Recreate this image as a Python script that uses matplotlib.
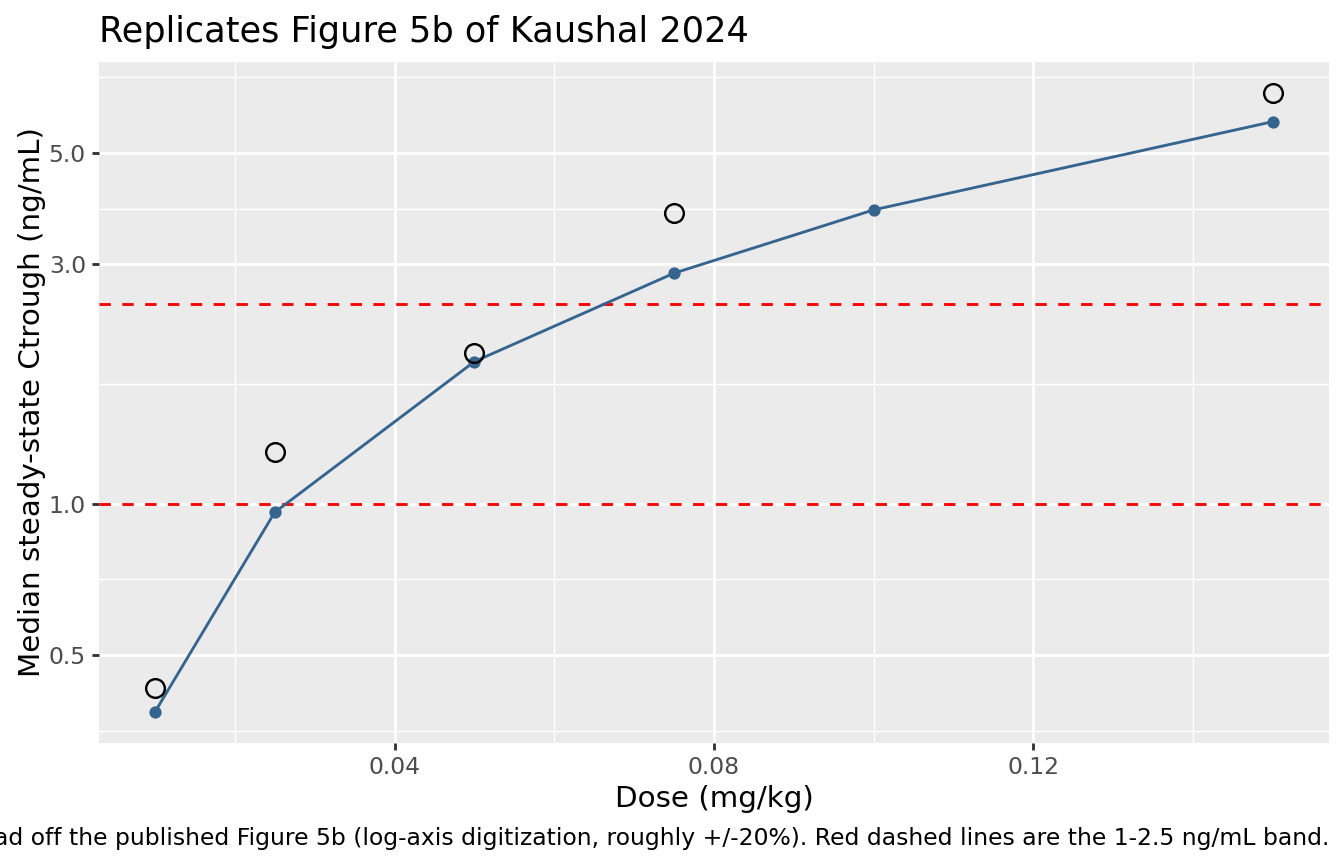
#!/usr/bin/env python3
"""Dose vs median steady-state Ctrough, replicating Kaushal 2024 Fig 5b."""
import matplotlib

matplotlib.use("Agg")
import matplotlib.pyplot as plt
from matplotlib.ticker import FixedLocator, NullFormatter
import numpy as np

# model medians (filled points + line)
dose = [0.01, 0.025, 0.05, 0.075, 0.10, 0.15]
model_ctrough = [0.385, 0.962, 1.92, 2.88, 3.85, 5.77]

obs_dose = [0.01, 0.025, 0.05, 0.075, 0.15]
obs_ctrough = [0.430, 1.27, 2.00, 3.79, 6.58]

band = [1.0, 2.5]

x_major = [0.04, 0.08, 0.12]
x_major_labels = ["0.04", "0.08", "0.12"]
x_minor = [0.02, 0.06, 0.10, 0.14]
y_major = [0.5, 1.0, 3.0, 5.0]
y_major_labels = ["0.5", "1.0", "3.0", "5.0"]

title = "Replicates Figure 5b of Kaushal 2024"
xlabel = "Dose (mg/kg)"
ylabel = "Median steady-state Ctrough (ng/mL)"
# caption is right-aligned and runs off the left edge, as in the original
caption = (
    "Open circles: values read off the published Figure 5b (log-axis digitization, "
    "roughly +/-20%). Red dashed lines are the 1-2.5 ng/mL band."
)

LINE_COLOR = "#35648F"
PANEL_BG = "#EBEBEB"

plt.rcParams["font.family"] = ["DejaVu Sans"]

W, H = 1344, 864
fig = plt.figure(figsize=(7, 4.5), dpi=192)
ax = fig.add_axes([99 / W, 1 - 743 / H, (1329 - 99) / W, (743 - 62) / H])
ax.set_facecolor(PANEL_BG)
for s in ax.spines.values():
    s.set_visible(False)

ax.set_yscale("log")

# ggplot-like 5% expansion, in log space for y
all_x = np.array(dose + obs_dose)
xr = all_x.max() - all_x.min()
ax.set_xlim(all_x.min() - 0.05 * xr, all_x.max() + 0.05 * xr)
all_y = np.log10(np.array(model_ctrough + obs_ctrough + band))
yr = all_y.max() - all_y.min()
ax.set_ylim(10 ** (all_y.min() - 0.05 * yr), 10 ** (all_y.max() + 0.05 * yr))

# minor breaks halfway between majors in log space (ggplot regular_minor_breaks)
ly = np.log10(y_major)
ext = np.concatenate([[ly[0] - (ly[1] - ly[0])], ly, [ly[-1] + (ly[1] - ly[0])]])
y_minor = 10 ** ((ext[:-1] + ext[1:]) / 2)

ax.xaxis.set_major_locator(FixedLocator(x_major))
ax.set_xticklabels(x_major_labels)
ax.xaxis.set_minor_locator(FixedLocator(x_minor))
ax.yaxis.set_major_locator(FixedLocator(y_major))
ax.set_yticklabels(y_major_labels)
ax.yaxis.set_minor_locator(FixedLocator(y_minor))
ax.yaxis.set_minor_formatter(NullFormatter())

ax.grid(which="major", color="white", linewidth=1.07)
ax.grid(which="minor", color="white", linewidth=0.53)
ax.set_axisbelow(True)

ax.tick_params(which="major", length=2.74, width=1.07, color="#333333",
               labelsize=8.8, labelcolor="#4D4D4D", pad=2.2)
ax.tick_params(which="minor", length=0)

for yv in band:
    ax.axhline(yv, color="#FF0000", linewidth=1.07, linestyle=(0, (4, 4)), zorder=2)

ax.plot(dose, model_ctrough, color=LINE_COLOR, linewidth=1.07, zorder=3)
ax.plot(dose, model_ctrough, linestyle="none", marker="o", markersize=4.6,
        color=LINE_COLOR, markeredgewidth=0, zorder=4)
ax.plot(obs_dose, obs_ctrough, linestyle="none", marker="o", markersize=7.0,
        markerfacecolor="none", markeredgecolor="black", markeredgewidth=0.9, zorder=5)

ax.set_xlabel(xlabel, fontsize=11, labelpad=2.1)
ax.set_ylabel(ylabel, fontsize=11, labelpad=1.2)

fig.text(99 / W, 1 - 42 / H, title, fontsize=13.2, ha="left", va="baseline")
fig.text(1329 / W, 1 - 845 / H, caption, fontsize=8.8, ha="right", va="baseline")

fig.savefig("out.png", dpi=192)
plt.close(fig)
